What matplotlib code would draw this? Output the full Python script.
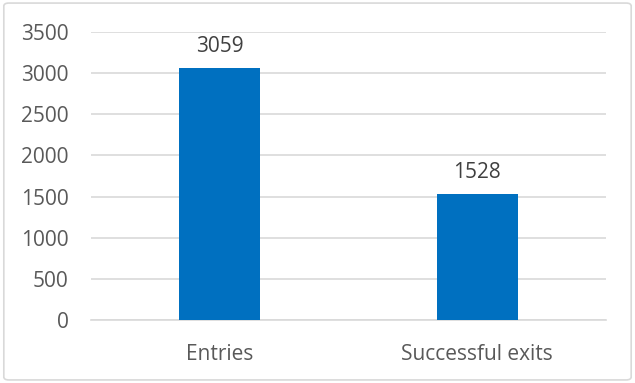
import matplotlib
matplotlib.use("Agg")
import matplotlib.pyplot as plt
from matplotlib.patches import FancyBboxPatch

categories = ["Entries", "Successful exits"]
values = [3059, 1528]
yticks = [0, 500, 1000, 1500, 2000, 2500, 3000, 3500]

plt.rcParams['font.family'] = ['Open Sans', 'DejaVu Sans']
text_color = "#595959"

fig = plt.figure(figsize=(6.35, 3.83), dpi=100)
# outer chart border
fig.patches.append(FancyBboxPatch((0.006, 0.008), 0.988, 0.984, boxstyle="round,pad=0,rounding_size=0.008",
                                  transform=fig.transFigure, fill=False, edgecolor="#d9d9d9", linewidth=1.2))

ax = fig.add_axes([91 / 635, 1 - 320 / 383, 515 / 635, 288 / 383])
x = range(len(categories))
bars = ax.bar(x, values, width=0.315, color="#0070c0", zorder=3)

for b, v in zip(bars, values):
    ax.annotate(str(v), (b.get_x() + b.get_width() / 2, v), xytext=(0, 8), textcoords="offset points",
                ha="center", va="bottom", fontsize=15, color="#404040")

ax.set_xlim(-0.5, 1.5)
ax.set_ylim(0, 3500)
ax.set_yticks(yticks)
ax.set_xticks(list(x))
ax.set_xticklabels(categories)
ax.grid(axis="y", color="#d9d9d9", linewidth=1.2, zorder=0)
for s in ["top", "right", "left"]:
    ax.spines[s].set_visible(False)
ax.spines["bottom"].set_color("#d9d9d9")
ax.spines["bottom"].set_linewidth(1.2)
ax.tick_params(axis="both", length=0, labelsize=15, colors=text_color)
ax.tick_params(axis="y", pad=16)
ax.tick_params(axis="x", pad=17)

fig.savefig("out.png", dpi=100)
